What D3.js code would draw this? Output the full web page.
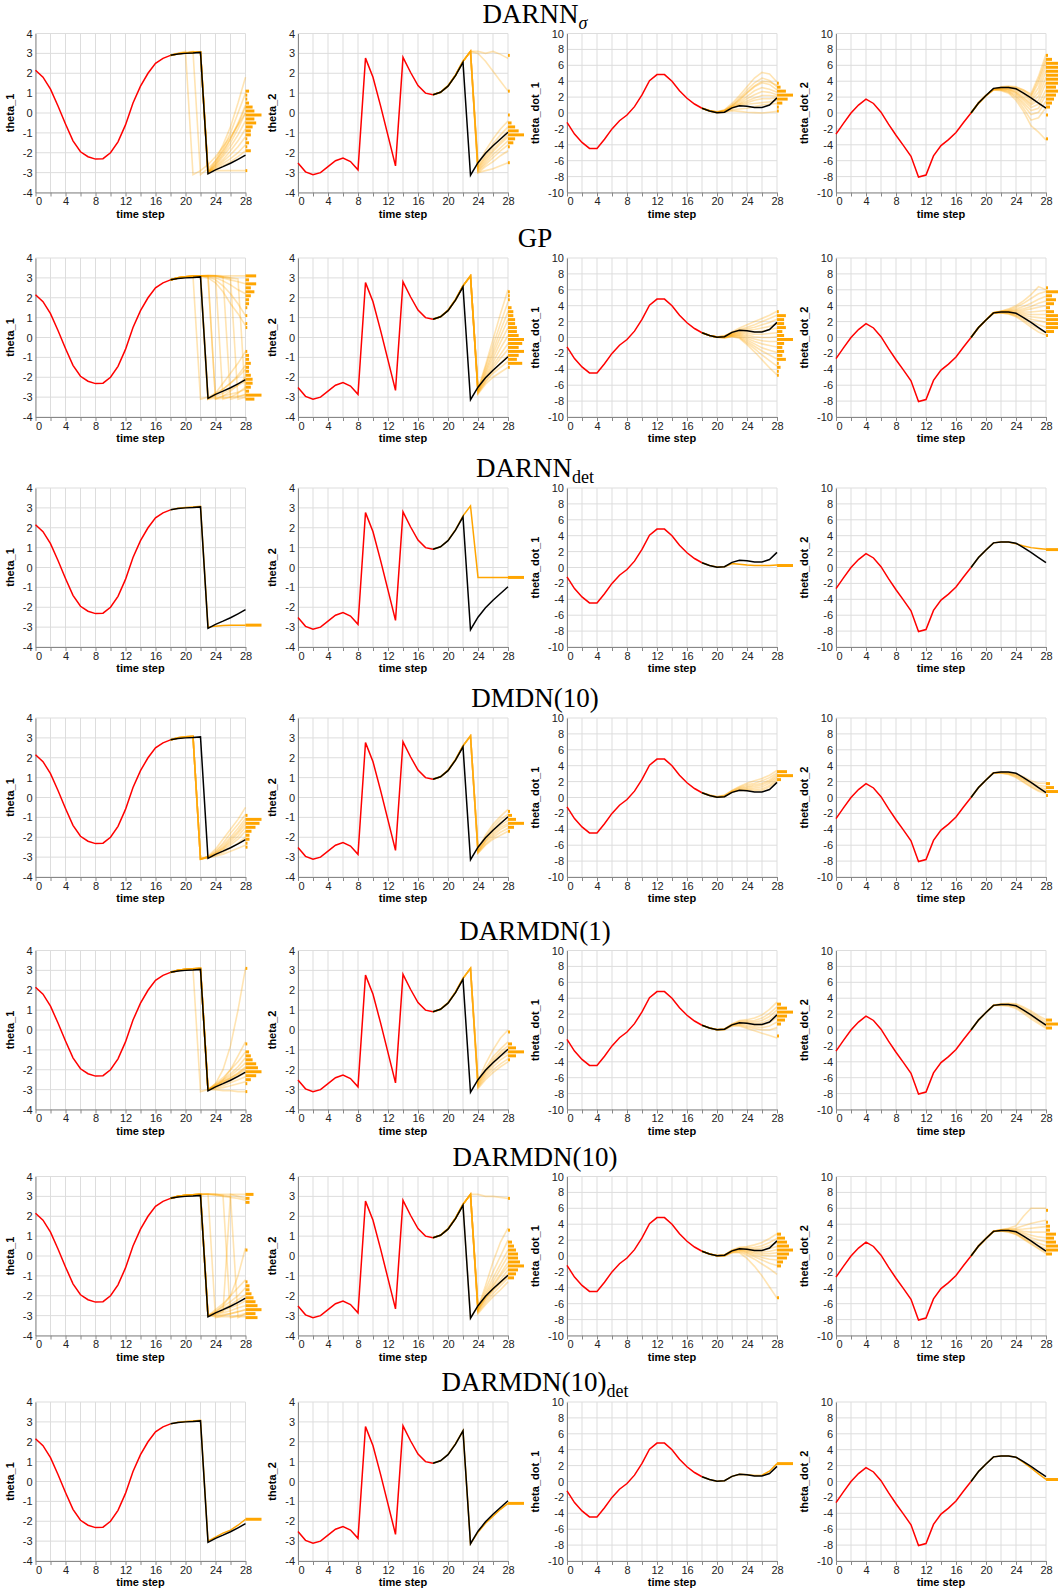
<!DOCTYPE html>
<html>
<head>
<meta charset="utf-8">
<script src="https://cdn.jsdelivr.net/npm/d3@7"></script>
<style>
  body { margin: 0; background: #fff; }
</style>
</head>
<body>
<script>
// ---- data -------------------------------------------------------------
// models (rows) and subscripts
var models = ["DARNN", "GP", "DARNN", "DMDN(10)", "DARMDN(1)", "DARMDN(10)", "DARMDN(10)"];
var subs = ["σ", "", "det", "", "", "", "det"];
var isDet = [false, false, true, false, false, false, true];

// variables (columns)
var varNames = ["theta_1", "theta_2", "theta_dot_1", "theta_dot_2"];
var timeTicks = [0, 2, 4, 6, 8, 10, 12, 14, 16, 18, 20, 22, 24, 26, 28];
var thetaTicks = [-4, -3, -2, -1, 0, 1, 2, 3, 4];
var dotTicks = [-10, -8, -6, -4, -2, 0, 2, 4, 6, 8, 10];
var obsEnd = 18;

// ground truth, t = 0..28 (red up to t=18, black after)
var theta1 = [2.15, 1.8, 1.2, 0.35, -0.55, -1.4, -1.95, -2.2, -2.32, -2.3, -2.0, -1.45, -0.6, 0.5, 1.35, 2.0, 2.5, 2.75, 2.9,
  2.97, 3.0, 3.02, 3.05, -3.06, -2.86, -2.7, -2.53, -2.33, -2.12];
var theta2 = [-2.52, -2.96, -3.1, -3.0, -2.7, -2.4, -2.27, -2.44, -2.86, 2.76, 1.8, 0.37, -1.14, -2.66, 2.8, 2.05, 1.38, 1.0, 0.92,
  1.04, 1.35, 1.88, 2.55, -3.13, -2.5, -2.03, -1.65, -1.31, -0.97];
var thetaDot1 = [-1.18, -2.65, -3.7, -4.45, -4.45, -3.3, -2.0, -0.97, -0.25, 0.8, 2.27, 4.07, 4.83, 4.83, 4.0, 2.8, 1.85, 1.13, 0.6,
  0.25, 0.04, 0.1, 0.65, 0.9, 0.85, 0.7, 0.7, 1.0, 1.9];
var thetaDot2 = [-2.65, -1.3, 0, 1.0, 1.75, 1.2, 0.1, -1.4, -2.8, -4.1, -5.45, -8.05, -7.8, -5.4, -4.1, -3.35, -2.45, -1.2, 0,
  1.25, 2.2, 3.1, 3.2, 3.2, 3.05, 2.5, 1.9, 1.25, 0.62];

// predicted sample paths, t = 19..28, one list per model
var samplesTheta1 = [
  [[3.0,3.1,-3.1,-2.9,-2.6,-2.2,-1.7,-1.2,-0.6,0.0],
   [3.0,3.05,3.1,-3.1,-2.8,-2.4,-1.9,-1.3,-0.6,0.3],
   [2.98,3.02,3.05,3.08,-2.95,-2.4,-1.6,-0.7,0.5,1.8],
   [2.98,3.02,3.05,3.08,-2.95,-2.5,-1.8,-1.0,0.0,1.0],
   [2.98,3.02,3.05,3.08,-2.95,-2.55,-2.0,-1.3,-0.5,0.4],
   [2.98,3.02,3.05,3.08,-3.0,-2.6,-2.1,-1.5,-0.8,0.0],
   [2.98,3.02,3.05,3.08,-3.0,-2.65,-2.2,-1.7,-1.1,-0.4],
   [2.98,3.02,3.05,3.08,-3.0,-2.7,-2.35,-1.9,-1.4,-0.8],
   [2.98,3.02,3.05,3.08,-3.0,-2.75,-2.45,-2.1,-1.7,-1.2],
   [2.98,3.02,3.05,3.08,-3.0,-2.8,-2.55,-2.3,-2.0,-1.6],
   [2.98,3.02,3.05,3.08,-3.0,-2.85,-2.65,-2.45,-2.2,-1.9],
   [2.98,3.02,3.05,3.08,-2.9,-2.9,-2.9,-2.9,-2.9,-2.9]],
  [[3.0,3.05,3.1,-3.1,-3.0,-2.8,-2.6,-2.3,-2.0,-1.6],
   [3.0,3.05,3.08,3.1,-3.1,-2.9,-2.6,-2.3,-1.9,-1.4],
   [3.0,3.05,3.08,3.1,3.1,-3.1,-2.95,-2.7,-2.4,-2.0],
   [3.0,3.05,3.08,3.1,3.1,3.1,-3.1,-3.0,-2.8,-2.5],
   [3.0,3.05,3.08,3.1,3.1,3.1,3.05,-3.1,-3.0,-2.85],
   [3.0,3.05,3.08,3.1,3.12,3.1,3.05,3.0,-3.1,-3.0],
   [3.0,3.05,3.08,3.1,3.12,3.1,3.05,3.0,2.95,-3.1],
   [3.0,3.05,3.08,3.1,3.12,3.12,3.1,3.1,3.1,3.1],
   [3.0,3.05,3.08,3.1,3.1,3.08,3.0,2.9,2.8,2.7],
   [3.0,3.05,3.08,3.1,3.08,3.0,2.85,2.65,2.4,2.2],
   [3.0,3.05,3.08,3.1,3.05,2.9,2.6,2.2,1.7,1.1],
   [3.0,3.05,3.08,3.1,3.0,2.75,2.3,1.7,1.2,0.6],
   [3.0,3.05,3.08,3.1,-3.1,-2.8,-2.3,-1.8,-1.3,-0.7],
   [3.0,3.05,3.08,3.1,-3.05,-2.95,-2.8,-2.6,-2.4,-2.2],
   [3.0,3.05,3.08,3.1,3.1,-3.1,-3.05,-3.0,-2.95,-2.9],
   [3.0,3.05,3.08,3.1,-3.1,-3.05,-2.95,-2.85,-2.75,-2.6]],
  [[2.98,3.02,3.05,3.08,-3.0,-2.95,-2.92,-2.9,-2.9,-2.9]],
  [[3.0,3.05,3.08,-3.1,-2.95,-2.6,-2.1,-1.6,-1.1,-0.5],
   [3.0,3.05,3.08,-3.1,-2.97,-2.7,-2.3,-1.8,-1.35,-0.85],
   [3.0,3.05,3.08,-3.1,-3.0,-2.75,-2.4,-2.0,-1.55,-1.05],
   [3.0,3.05,3.08,-3.1,-3.0,-2.8,-2.5,-2.1,-1.7,-1.2],
   [3.0,3.05,3.08,-3.1,-3.0,-2.8,-2.55,-2.2,-1.8,-1.35],
   [3.0,3.05,3.08,-3.1,-3.0,-2.85,-2.6,-2.3,-1.95,-1.5],
   [3.0,3.05,3.08,-3.1,-3.0,-2.85,-2.65,-2.4,-2.1,-1.7],
   [3.0,3.05,3.08,-3.1,-3.02,-2.9,-2.75,-2.55,-2.3,-2.0],
   [3.0,3.05,3.08,-3.1,-3.03,-2.95,-2.85,-2.7,-2.55,-2.4]],
  [[3.0,3.05,3.08,-3.1,-3.0,-2.8,-2.6,-2.4,-2.2,-1.9],
   [3.0,3.05,3.08,3.1,-3.0,-2.7,-2.4,-2.0,-1.6,-1.1],
   [3.0,3.05,3.08,3.1,-3.0,-2.75,-2.5,-2.2,-1.85,-1.4],
   [3.0,3.05,3.08,3.1,-3.0,-2.8,-2.55,-2.3,-2.0,-1.65],
   [3.0,3.05,3.08,3.1,-3.0,-2.82,-2.6,-2.4,-2.15,-1.85],
   [3.0,3.05,3.08,3.1,-3.0,-2.85,-2.65,-2.45,-2.25,-2.0],
   [3.0,3.05,3.08,3.1,-3.0,-2.87,-2.72,-2.55,-2.35,-2.15],
   [3.0,3.05,3.08,3.1,-3.0,-2.9,-2.8,-2.65,-2.5,-2.35],
   [3.0,3.05,3.08,3.1,-3.0,-2.95,-2.9,-2.8,-2.7,-2.6],
   [3.0,3.05,3.08,3.1,-3.0,-3.0,-3.05,-3.05,-3.1,-3.1],
   [3.0,3.05,3.08,3.1,-3.0,-2.8,-2.5,-2.0,-1.3,-0.6],
   [3.0,3.05,3.08,3.1,-3.0,-2.7,-2.0,-0.8,1.0,3.1]],
  [[3.0,3.05,3.08,3.1,-3.0,-2.8,-2.55,-2.3,-2.0,-1.6],
   [3.0,3.05,3.08,3.1,-3.0,-2.85,-2.65,-2.45,-2.2,-1.95],
   [3.0,3.05,3.08,3.1,-3.0,-2.9,-2.75,-2.6,-2.45,-2.25],
   [3.0,3.05,3.08,3.1,-3.0,-2.95,-2.85,-2.75,-2.6,-2.5],
   [3.0,3.05,3.08,3.1,-3.0,-3.0,-2.95,-2.9,-2.8,-2.7],
   [3.0,3.05,3.08,3.1,-3.0,-3.05,-3.05,-3.05,-3.05,-3.05],
   [3.0,3.05,3.08,3.1,-3.0,-2.7,-2.4,-2.0,-1.6,-1.2],
   [3.0,3.05,3.08,3.1,3.12,-3.1,-3.0,-2.9,-2.8,-2.7],
   [3.0,3.05,3.08,3.1,3.12,3.1,3.05,-3.1,-3.0,-2.9],
   [3.0,3.05,3.08,3.1,3.12,3.1,3.05,3.0,-3.1,-2.9],
   [3.0,3.05,3.08,3.1,3.12,3.1,3.1,3.1,3.1,3.1],
   [3.0,3.05,3.08,3.1,3.1,3.05,3.0,2.95,2.9,2.8],
   [3.0,3.05,3.08,3.1,-3.0,-2.8,-2.5,-2.0,-1.0,0.4],
   [3.0,3.05,3.08,3.1,-3.0,-2.9,-2.8,3.1,3.0,2.9]],
  [[2.98,3.02,3.05,3.08,-3.0,-2.8,-2.6,-2.45,-2.2,-1.9]]
];

var samplesTheta2 = [
  [[1.04,1.36,1.9,2.6,3.1,-2.6,-1.9,-1.3,-0.8,-0.4],
   [1.04,1.36,1.9,2.6,3.1,-2.7,-2.1,-1.55,-1.1,-0.7],
   [1.04,1.36,1.9,2.6,3.1,-2.75,-2.2,-1.7,-1.3,-0.9],
   [1.04,1.36,1.9,2.6,3.1,-2.8,-2.3,-1.85,-1.45,-1.1],
   [1.04,1.36,1.9,2.6,3.1,-2.85,-2.4,-1.95,-1.55,-1.2],
   [1.04,1.36,1.9,2.6,3.1,-2.9,-2.5,-2.1,-1.75,-1.4],
   [1.04,1.36,1.9,2.6,3.1,-2.95,-2.6,-2.25,-1.9,-1.6],
   [1.04,1.36,1.9,2.6,3.1,-3.0,-2.7,-2.45,-2.15,-1.9],
   [1.04,1.36,1.9,2.6,3.1,-3.0,-2.9,-2.8,-2.65,-2.5],
   [1.04,1.36,1.9,2.6,3.1,3.1,3.0,3.1,2.95,2.75],
   [1.04,1.36,1.9,2.6,3.1,3.0,2.6,2.1,1.6,1.1]],
  [[1.04,1.36,1.9,2.6,3.1,-2.6,-1.4,-0.1,1.2,2.4],
   [1.04,1.36,1.9,2.6,3.1,-2.65,-1.5,-0.4,0.7,1.8],
   [1.04,1.36,1.9,2.6,3.1,-2.65,-1.65,-0.65,0.35,1.3],
   [1.04,1.36,1.9,2.6,3.1,-2.7,-1.75,-0.85,0.05,0.9],
   [1.04,1.36,1.9,2.6,3.1,-2.7,-1.85,-1.05,-0.25,0.5],
   [1.04,1.36,1.9,2.6,3.1,-2.7,-1.95,-1.25,-0.55,0.1],
   [1.04,1.36,1.9,2.6,3.1,-2.75,-2.05,-1.4,-0.85,-0.3],
   [1.04,1.36,1.9,2.6,3.1,-2.75,-2.1,-1.55,-1.05,-0.6],
   [1.04,1.36,1.9,2.6,3.1,-2.8,-2.2,-1.7,-1.3,-0.9],
   [1.04,1.36,1.9,2.6,3.1,-2.8,-2.25,-1.8,-1.5,-1.2],
   [1.04,1.36,1.9,2.6,3.1,-2.85,-2.35,-2.0,-1.75,-1.5]],
  [[1.04,1.36,1.9,2.6,3.1,-0.5,-0.5,-0.5,-0.5,-0.5]],
  [[1.04,1.36,1.9,2.6,3.1,-2.6,-1.9,-1.35,-0.95,-0.6],
   [1.04,1.36,1.9,2.6,3.1,-2.65,-2.0,-1.5,-1.1,-0.85],
   [1.04,1.36,1.9,2.6,3.1,-2.7,-2.1,-1.6,-1.25,-1.0],
   [1.04,1.36,1.9,2.6,3.1,-2.7,-2.15,-1.7,-1.4,-1.15],
   [1.04,1.36,1.9,2.6,3.1,-2.75,-2.2,-1.8,-1.5,-1.3],
   [1.04,1.36,1.9,2.6,3.1,-2.75,-2.25,-1.9,-1.6,-1.4],
   [1.04,1.36,1.9,2.6,3.1,-2.8,-2.35,-2.0,-1.75,-1.55],
   [1.04,1.36,1.9,2.6,3.1,-2.8,-2.4,-2.1,-1.9,-1.7]],
  [[1.04,1.36,1.9,2.6,3.1,-2.6,-1.7,-1.0,-0.4,0.0],
   [1.04,1.36,1.9,2.6,3.1,-2.65,-1.95,-1.35,-0.95,-0.6],
   [1.04,1.36,1.9,2.6,3.1,-2.7,-2.05,-1.5,-1.1,-0.8],
   [1.04,1.36,1.9,2.6,3.1,-2.75,-2.1,-1.6,-1.2,-0.95],
   [1.04,1.36,1.9,2.6,3.1,-2.8,-2.2,-1.7,-1.35,-1.1],
   [1.04,1.36,1.9,2.6,3.1,-2.85,-2.3,-1.85,-1.5,-1.25],
   [1.04,1.36,1.9,2.6,3.1,-2.9,-2.4,-2.0,-1.7,-1.45],
   [1.04,1.36,1.9,2.6,3.1,-2.95,-2.5,-2.15,-1.85,-1.6]],
  [[1.04,1.36,1.9,2.6,3.1,-2.6,-1.7,-0.8,0.0,0.8],
   [1.04,1.36,1.9,2.6,3.1,-2.65,-1.85,-1.1,-0.4,0.3],
   [1.04,1.36,1.9,2.6,3.1,-2.7,-1.95,-1.3,-0.65,0.0],
   [1.04,1.36,1.9,2.6,3.1,-2.7,-2.05,-1.45,-0.9,-0.3],
   [1.04,1.36,1.9,2.6,3.1,-2.75,-2.1,-1.55,-1.0,-0.5],
   [1.04,1.36,1.9,2.6,3.1,-2.75,-2.15,-1.65,-1.2,-0.7],
   [1.04,1.36,1.9,2.6,3.1,-2.8,-2.25,-1.75,-1.35,-0.9],
   [1.04,1.36,1.9,2.6,3.1,-2.85,-2.35,-1.9,-1.5,-1.1],
   [1.04,1.36,1.9,2.6,3.1,-2.9,-2.45,-2.05,-1.7,-1.3],
   [1.04,1.36,1.9,2.6,3.1,-2.6,-1.5,-0.3,0.7,1.4],
   [1.04,1.36,1.9,2.6,3.1,3.1,3.0,3.0,2.95,2.9],
   [1.04,1.36,1.9,2.55,-3.1,-2.55,-2.1,-1.7,-1.35,-1.0]],
  [[1.04,1.36,1.9,2.55,-3.13,-2.55,-2.1,-1.75,-1.4,-1.1]]
];

var samplesDot1 = [
  [[0.3,0.15,0.4,1.2,2.2,3.3,4.4,5.1,4.9,3.9],
   [0.3,0.15,0.35,1.0,1.9,2.9,3.8,4.4,4.1,3.3],
   [0.3,0.12,0.3,0.9,1.6,2.5,3.3,3.8,3.6,2.9],
   [0.28,0.1,0.3,0.8,1.4,2.1,2.8,3.2,3.0,2.6],
   [0.28,0.1,0.25,0.75,1.2,1.8,2.3,2.7,2.6,2.3],
   [0.27,0.08,0.2,0.7,1.1,1.5,1.9,2.2,2.2,2.1],
   [0.27,0.08,0.2,0.65,1.0,1.3,1.6,1.8,1.8,1.9],
   [0.26,0.06,0.15,0.6,0.9,1.1,1.2,1.3,1.4,1.6],
   [0.26,0.05,0.1,0.4,0.5,0.6,0.8,1.0,1.1,1.2],
   [0.25,0.04,0.1,0.3,0.2,0.1,0.05,0.0,0.1,0.2],
   [0.27,0.1,0.3,0.9,1.7,2.6,3.4,4.0,3.9,3.5]],
  [[0.25,0.05,0.2,0.7,1.2,1.6,2.0,2.4,2.8,3.3],
   [0.25,0.05,0.2,0.65,1.0,1.3,1.6,2.0,2.4,2.8],
   [0.25,0.05,0.15,0.6,0.9,1.1,1.3,1.6,1.9,2.3],
   [0.25,0.05,0.15,0.55,0.8,0.9,1.0,1.2,1.4,1.7],
   [0.25,0.05,0.1,0.5,0.7,0.7,0.7,0.8,1.0,1.2],
   [0.25,0.05,0.1,0.45,0.6,0.5,0.4,0.4,0.5,0.6],
   [0.25,0.05,0.1,0.4,0.5,0.3,0.1,0.0,0.0,0.1],
   [0.25,0.05,0.05,0.35,0.4,0.1,-0.2,-0.4,-0.5,-0.5],
   [0.25,0.05,0.05,0.3,0.3,-0.1,-0.5,-0.8,-1.0,-1.2],
   [0.25,0.05,0.0,0.25,0.2,-0.3,-0.8,-1.3,-1.6,-1.9],
   [0.25,0.05,0.0,0.2,0.1,-0.5,-1.1,-1.7,-2.2,-2.7],
   [0.25,0.05,-0.05,0.15,0.0,-0.7,-1.4,-2.2,-2.9,-3.6],
   [0.25,0.05,-0.05,0.1,-0.1,-0.9,-1.8,-2.8,-3.8,-4.7]],
  [[0.25,0.05,0.1,0.5,0.4,0.3,0.25,0.25,0.25,0.3]],
  [[0.3,0.1,0.3,0.9,1.4,1.8,2.1,2.4,2.8,3.4],
   [0.3,0.1,0.25,0.85,1.3,1.6,1.8,2.1,2.5,3.1],
   [0.28,0.08,0.2,0.8,1.2,1.4,1.6,1.8,2.2,2.9],
   [0.27,0.06,0.18,0.75,1.1,1.25,1.4,1.6,2.0,2.7],
   [0.26,0.05,0.15,0.7,1.0,1.1,1.2,1.35,1.8,2.5],
   [0.25,0.05,0.12,0.68,0.95,1.0,1.0,1.1,1.5,2.3],
   [0.25,0.04,0.1,0.65,0.9,0.9,0.85,0.9,1.3,2.1]],
  [[0.25,0.05,0.15,0.75,1.2,1.3,1.5,1.9,2.6,3.5],
   [0.25,0.05,0.12,0.7,1.1,1.15,1.2,1.5,2.1,2.9],
   [0.25,0.05,0.1,0.68,1.0,1.0,1.0,1.2,1.7,2.5],
   [0.25,0.04,0.1,0.65,0.9,0.9,0.8,0.9,1.3,2.1],
   [0.25,0.04,0.08,0.62,0.8,0.7,0.6,0.6,0.9,1.6],
   [0.25,0.04,0.08,0.6,0.7,0.5,0.4,0.3,0.5,1.0],
   [0.25,0.04,0.05,0.55,0.6,0.35,0.2,0.0,0.0,0.3],
   [0.25,0.04,0.05,0.5,0.5,0.2,-0.1,-0.4,-0.7,-1.0]],
  [[0.25,0.05,0.15,0.75,1.1,1.2,1.4,1.7,2.2,2.8],
   [0.25,0.05,0.12,0.7,1.0,1.05,1.1,1.3,1.7,2.2],
   [0.25,0.05,0.1,0.68,0.95,0.95,0.9,1.0,1.3,1.7],
   [0.25,0.04,0.1,0.65,0.9,0.85,0.75,0.75,0.95,1.2],
   [0.25,0.04,0.08,0.62,0.85,0.75,0.6,0.5,0.6,0.8],
   [0.25,0.04,0.08,0.6,0.8,0.65,0.45,0.3,0.3,0.4],
   [0.25,0.04,0.05,0.58,0.75,0.55,0.3,0.1,0.0,0.0],
   [0.25,0.04,0.05,0.55,0.7,0.45,0.1,-0.2,-0.4,-0.5],
   [0.25,0.04,0.05,0.5,0.6,0.3,-0.1,-0.5,-0.9,-1.2],
   [0.25,0.04,0.0,0.45,0.5,0.1,-0.4,-1.0,-1.6,-2.3],
   [0.25,0.04,0.0,0.4,0.4,-0.3,-1.3,-2.5,-3.9,-5.3]],
  [[0.25,0.04,0.1,0.65,0.9,0.85,0.75,0.8,1.3,2.25]]
];

var samplesDot2 = [
  [[1.25,2.2,3.0,3.3,3.4,3.3,2.9,2.4,4.6,7.4],
   [1.25,2.2,3.0,3.2,3.3,3.1,2.7,2.0,3.8,6.5],
   [1.25,2.2,3.0,3.2,3.2,3.0,2.5,1.7,3.2,6.0],
   [1.25,2.2,3.0,3.1,3.1,2.9,2.3,1.5,2.6,5.3],
   [1.25,2.2,3.0,3.1,3.0,2.7,2.0,1.2,2.1,4.5],
   [1.25,2.2,3.0,3.1,3.0,2.6,1.8,1.0,1.6,3.8],
   [1.25,2.2,3.0,3.0,2.9,2.5,1.6,0.7,1.1,2.9],
   [1.25,2.2,3.0,3.0,2.8,2.3,1.3,0.3,0.6,2.3],
   [1.25,2.2,2.9,2.9,2.7,2.1,1.0,-0.2,0.1,1.5],
   [1.25,2.2,2.9,2.9,2.6,1.9,0.6,-0.9,-0.6,0.7],
   [1.25,2.2,2.9,2.8,2.5,1.6,0.2,-1.6,-2.4,-3.4],
   [1.25,2.2,3.0,3.2,3.3,3.2,2.9,2.2,4.2,6.9]],
  [[1.25,2.2,3.1,3.3,3.6,4.0,4.6,5.4,6.4,6.0],
   [1.25,2.2,3.1,3.3,3.5,3.8,4.3,4.9,5.5,5.8],
   [1.25,2.2,3.1,3.3,3.4,3.6,3.9,4.3,4.8,5.2],
   [1.25,2.2,3.1,3.25,3.35,3.45,3.6,3.9,4.3,4.6],
   [1.25,2.2,3.1,3.25,3.3,3.35,3.4,3.6,3.8,4.0],
   [1.25,2.2,3.1,3.2,3.25,3.2,3.2,3.2,3.3,3.4],
   [1.25,2.2,3.1,3.2,3.2,3.1,3.0,2.9,2.9,2.9],
   [1.25,2.2,3.1,3.2,3.15,3.0,2.8,2.6,2.5,2.4],
   [1.25,2.2,3.1,3.15,3.1,2.9,2.6,2.3,2.1,1.9],
   [1.25,2.2,3.1,3.15,3.05,2.8,2.4,2.0,1.6,1.3],
   [1.25,2.2,3.1,3.1,3.0,2.7,2.2,1.6,1.1,0.6],
   [1.25,2.2,3.1,3.1,2.95,2.6,2.0,1.3,0.7,0.3]],
  [[1.25,2.2,3.1,3.2,3.2,3.0,2.7,2.5,2.4,2.3]],
  [[1.25,2.2,3.1,3.2,3.15,3.0,2.6,2.1,1.8,1.8],
   [1.25,2.2,3.1,3.2,3.1,2.9,2.4,1.9,1.5,1.4],
   [1.25,2.2,3.1,3.15,3.05,2.8,2.3,1.8,1.3,1.1],
   [1.25,2.2,3.1,3.1,3.0,2.7,2.2,1.6,1.1,0.9],
   [1.25,2.2,3.1,3.1,2.95,2.6,2.0,1.4,0.9,0.7],
   [1.25,2.2,3.1,3.05,2.9,2.5,1.9,1.3,0.8,0.5]],
  [[1.25,2.2,3.1,3.3,3.35,3.3,2.9,2.4,1.8,1.3],
   [1.25,2.2,3.1,3.25,3.3,3.2,2.75,2.2,1.6,1.0],
   [1.25,2.2,3.1,3.2,3.2,3.05,2.6,2.0,1.4,0.8],
   [1.25,2.2,3.1,3.2,3.15,2.95,2.45,1.8,1.2,0.6],
   [1.25,2.2,3.1,3.15,3.1,2.85,2.3,1.65,1.0,0.4],
   [1.25,2.2,3.1,3.1,3.0,2.7,2.1,1.4,0.8,0.2]],
  [[1.25,2.2,3.1,3.3,3.5,3.8,5.0,6.0,6.0,6.0],
   [1.25,2.2,3.1,3.3,3.4,3.5,3.8,4.1,4.3,4.5],
   [1.25,2.2,3.1,3.3,3.35,3.35,3.4,3.5,3.6,3.7],
   [1.25,2.2,3.1,3.25,3.3,3.25,3.1,3.0,3.0,3.0],
   [1.25,2.2,3.1,3.25,3.25,3.15,2.9,2.6,2.4,2.3],
   [1.25,2.2,3.1,3.2,3.2,3.05,2.7,2.3,2.0,1.8],
   [1.25,2.2,3.1,3.2,3.15,2.95,2.5,2.0,1.6,1.3],
   [1.25,2.2,3.1,3.2,3.1,2.85,2.3,1.8,1.3,0.9],
   [1.25,2.2,3.1,3.15,3.05,2.75,2.2,1.6,1.0,0.5],
   [1.25,2.2,3.1,3.15,3.0,2.7,2.1,1.5,0.9,0.3]],
  [[1.25,2.2,3.1,3.2,3.2,3.05,2.4,1.7,0.95,0.27]]
];

// histograms of the final step: [bin centre, count]
var histTheta1 = [
  [[1.1,2],[0.9,1],[0.7,1],[0.5,2],[0.3,4],[0.1,5],[-0.1,9],[-0.3,5],[-0.5,6],[-0.7,4],[-0.9,3],[-1.1,3],[-1.3,1],[-1.5,2],[-1.7,1],[-1.9,3],[-2.9,1]],
  [[3.1,6],[2.9,2],[2.7,6],[2.5,3],[2.3,5],[2.1,3],[1.9,2],[1.7,2],[1.5,1],[1.1,1],[0.7,1],[0.5,1],[-0.7,1],[-0.9,2],[-1.1,2],[-1.3,3],[-1.5,2],[-1.7,2],[-1.9,3],[-2.1,4],[-2.3,4],[-2.5,3],[-2.7,2],[-2.9,9],[-3.1,5]],
  [[-2.9,1]],
  [[-0.9,1],[-1.1,8],[-1.3,7],[-1.5,5],[-1.7,3],[-1.9,2],[-2.1,2],[-2.3,1],[-2.5,1]],
  [[3.1,1],[-0.7,1],[-1.1,2],[-1.3,3],[-1.5,4],[-1.7,6],[-1.9,7],[-2.1,9],[-2.3,6],[-2.5,3],[-2.7,1],[-3.1,1]],
  [[3.1,4],[2.9,2],[2.7,2],[0.3,1],[-1.3,1],[-1.5,2],[-1.7,2],[-1.9,3],[-2.1,4],[-2.3,5],[-2.5,6],[-2.7,8],[-2.9,5],[-3.1,6]],
  [[-1.9,1]]
];
var histTheta2 = [
  [[2.9,1],[1.1,1],[-0.1,1],[-0.5,2],[-0.7,4],[-0.9,6],[-1.1,9],[-1.3,4],[-1.5,3],[-1.7,1],[-2.5,1]],
  [[2.3,1],[2.1,1],[1.9,1],[1.5,2],[1.3,3],[1.1,3],[0.9,4],[0.7,4],[0.5,5],[0.3,5],[0.1,6],[-0.1,9],[-0.3,8],[-0.5,6],[-0.7,9],[-0.9,6],[-1.1,5],[-1.3,8],[-1.5,1]],
  [[-0.5,1]],
  [[-0.7,1],[-0.9,2],[-1.1,4],[-1.3,8],[-1.5,3],[-1.7,1]],
  [[-0.1,1],[-0.7,2],[-0.9,4],[-1.1,8],[-1.3,4],[-1.5,1]],
  [[2.9,1],[1.3,1],[0.7,2],[0.5,3],[0.3,4],[0.1,5],[-0.1,5],[-0.3,6],[-0.5,8],[-0.7,5],[-0.9,4],[-1.1,3]],
  [[-1.1,1]]
];
var histDot1 = [
  [[3.75,1],[3.25,2],[2.75,5],[2.25,9],[1.75,6],[1.25,3],[0.75,1],[0.25,1]],
  [[3.25,1],[2.75,5],[2.25,4],[1.75,4],[1.25,5],[0.75,3],[0.25,4],[-0.25,9],[-0.75,4],[-1.25,3],[-1.75,4],[-2.25,3],[-2.75,5],[-3.25,1],[-3.75,2],[-4.25,1],[-4.75,1]],
  [[0.25,1]],
  [[3.25,5],[2.75,8],[2.25,2]],
  [[3.25,2],[2.75,5],[2.25,8],[1.75,5],[1.25,4],[0.75,2],[-0.75,1]],
  [[2.75,2],[2.25,4],[1.75,5],[1.25,6],[0.75,8],[0.25,6],[-0.25,5],[-0.75,3],[-1.25,2],[-5.25,1]],
  [[2.25,1]]
];
var histDot2 = [
  [[7.25,1],[6.75,3],[6.25,8],[5.75,8],[5.25,6],[4.75,6],[4.25,7],[3.75,6],[3.25,5],[2.75,8],[2.25,5],[1.75,4],[1.25,3],[0.75,2],[-0.25,1],[-3.25,1]],
  [[6.25,1],[5.75,6],[5.25,3],[4.75,5],[4.25,4],[3.75,2],[3.25,4],[2.75,8],[2.25,8],[1.75,7],[1.25,6],[0.75,4],[0.25,1]],
  [[2.25,1]],
  [[1.75,2],[1.25,4],[0.75,8],[0.25,1]],
  [[1.25,3],[0.75,8],[0.25,3]],
  [[5.75,1],[4.25,1],[3.75,2],[3.25,2],[2.75,5],[2.25,4],[1.75,5],[1.25,8],[0.75,6],[0.25,3]],
  [[0.25,1]]
];

// ---- layout ------------------------------------------------------------
var W = 1058, H = 1589;
var rowTop = [33.5, 258, 488, 718, 950.5, 1176.5, 1402];
var colLeft = [35.5, 298, 567, 836];
var plotW = 210, plotH = 159, histMax = 16;
var sans = "'Liberation Sans', Arial, Helvetica, sans-serif";
var serif = "'Liberation Serif', 'Times New Roman', serif";

var truths = [theta1, theta2, thetaDot1, thetaDot2];
var sampleSets = [samplesTheta1, samplesTheta2, samplesDot1, samplesDot2];
var histSets = [histTheta1, histTheta2, histDot1, histDot2];
var yDomains = [[-4, 4], [-4, 4], [-10, 10], [-10, 10]];
var yTickSets = [thetaTicks, thetaTicks, dotTicks, dotTicks];
var binWidth = [0.2, 0.2, 0.5, 0.5];
var yTitleOff = [22, 22, 28, 28];

var svg = d3.select("body").append("svg")
  .attr("width", W)
  .attr("height", H)
  .style("display", "block");

function styleAxis(ax) {
  ax.select(".domain").attr("stroke", "#888");
  ax.selectAll(".tick line").attr("stroke", "#888");
  ax.selectAll(".tick text")
    .attr("fill", "#222")
    .style("font-family", sans)
    .style("font-size", "11px");
}

function drawPanel(r, c) {
  var g = svg.append("g")
    .attr("transform", "translate(" + colLeft[c] + "," + rowTop[r] + ")");

  var x = d3.scaleLinear().domain([0, 28]).range([0, plotW]);
  var y = d3.scaleLinear().domain(yDomains[c]).range([plotH, 0]);

  // grid
  g.append("g").selectAll("line").data(timeTicks).join("line")
    .attr("x1", function (d) { return x(d); })
    .attr("x2", function (d) { return x(d); })
    .attr("y1", 0).attr("y2", plotH)
    .attr("stroke", "#ddd").attr("stroke-width", 1);
  g.append("g").selectAll("line").data(yTickSets[c]).join("line")
    .attr("x1", 0).attr("x2", plotW)
    .attr("y1", function (d) { return y(d); })
    .attr("y2", function (d) { return y(d); })
    .attr("stroke", "#ddd").attr("stroke-width", 1);

  // axes (plain hyphen for negatives, as in the figure)
  var xa = g.append("g")
    .attr("transform", "translate(0," + plotH + ")")
    .call(d3.axisBottom(x).tickValues(timeTicks).tickSize(4).tickSizeOuter(0).tickPadding(1)
      .tickFormat(function (d) { return d % 4 === 0 ? String(d) : ""; }));
  xa.selectAll(".tick text").filter(function (d) { return d === 0; })
    .attr("text-anchor", "start");
  styleAxis(xa);

  var ya = g.append("g")
    .call(d3.axisLeft(y).tickValues(yTickSets[c]).tickSize(0).tickSizeOuter(0).tickPadding(3)
      .tickFormat(function (d) { return String(d); }));
  styleAxis(ya);

  g.append("text")
    .attr("x", plotW / 2).attr("y", plotH + 25)
    .attr("text-anchor", "middle")
    .style("font-family", sans).style("font-size", "11px").style("font-weight", "bold")
    .text("time step");
  g.append("text")
    .attr("transform", "translate(" + (-yTitleOff[c]) + "," + (plotH / 2) + ") rotate(-90)")
    .attr("text-anchor", "middle")
    .style("font-family", sans).style("font-size", "11px").style("font-weight", "bold")
    .text(varNames[c]);

  var line = d3.line()
    .x(function (d) { return x(d[0]); })
    .y(function (d) { return y(d[1]); });

  var truth = truths[c];
  var observed = truth.slice(0, obsEnd + 1).map(function (v, i) { return [i, v]; });
  var future = truth.slice(obsEnd).map(function (v, i) { return [i + obsEnd, v]; });

  // observed history
  g.append("path").datum(observed)
    .attr("d", line).attr("fill", "none")
    .attr("stroke", "#f00").attr("stroke-width", 1.5);

  // predicted samples
  g.append("g").selectAll("path").data(sampleSets[c][r]).join("path")
    .attr("d", function (s) {
      return line([truth[obsEnd]].concat(s).map(function (v, i) { return [i + obsEnd, v]; }));
    })
    .attr("fill", "none")
    .attr("stroke", "orange")
    .attr("stroke-width", isDet[r] ? 1.5 : 1.6)
    .attr("stroke-opacity", isDet[r] ? 1 : 0.3);

  // ground truth future
  g.append("path").datum(future)
    .attr("d", line).attr("fill", "none")
    .attr("stroke", "#000").attr("stroke-width", 1.5);

  // histogram of last step
  var bins = histSets[c][r];
  var bw = binWidth[c];
  var len = d3.scaleLinear()
    .domain([0, d3.max(bins, function (d) { return d[1]; })])
    .range([0, histMax]);
  g.append("g").selectAll("rect").data(bins).join("rect")
    .attr("x", plotW)
    .attr("y", function (d) { return y(d[0] + bw / 2) + 0.5; })
    .attr("height", function (d) { return Math.max(1, y(d[0] - bw / 2) - y(d[0] + bw / 2) - 1); })
    .attr("width", function (d) { return len(d[1]); })
    .attr("fill", "orange");
}

models.forEach(function (name, r) {
  var title = svg.append("text")
    .attr("x", 535)
    .attr("y", rowTop[r] - 11)
    .attr("text-anchor", "middle")
    .style("font-family", serif)
    .style("font-size", "27px")
    .attr("fill", "#000");
  title.append("tspan").text(name);
  if (subs[r]) {
    title.append("tspan")
      .attr("dy", 6)
      .style("font-size", "18px")
      .style("font-style", subs[r] === "σ" ? "italic" : "normal")
      .text(subs[r]);
  }
  for (var c = 0; c < 4; c++) drawPanel(r, c);
});
</script>
</body>
</html>
